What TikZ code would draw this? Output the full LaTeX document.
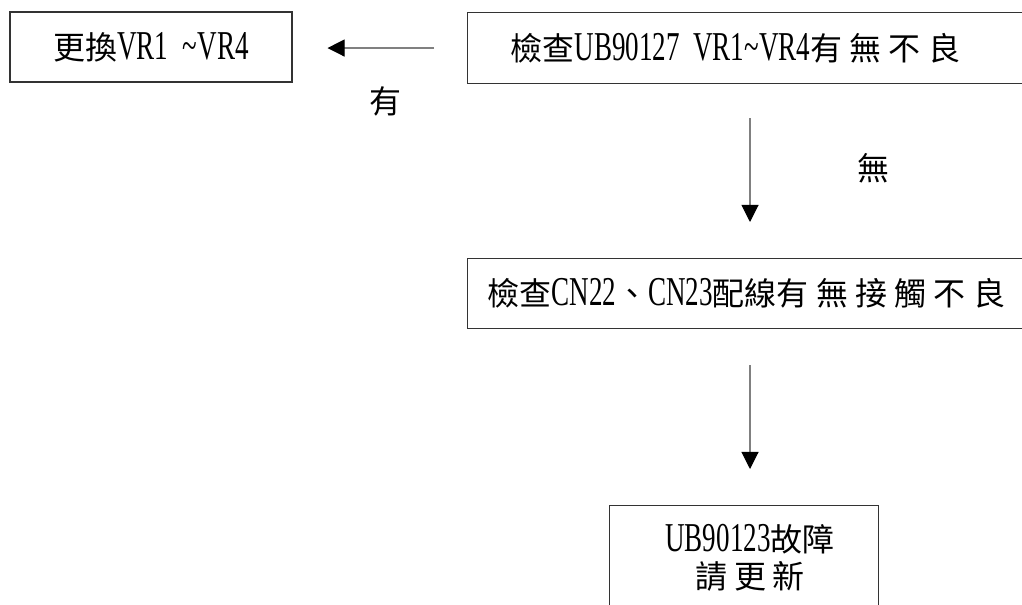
\documentclass[tikz,border=0pt]{standalone}
\usepackage{fontspec}
\setmainfont[FakeStretch=0.66]{Liberation Serif}
\newfontfamily\cjk[Scale=0.78]{Noto Sans CJK TC}
\usetikzlibrary{arrows.meta}
\newcommand{\gap}{\hspace{5.5pt}}

\begin{document}
\begin{tikzpicture}[x=0.75pt, y=-0.75pt,
  every node/.style={font=\fontsize{30.75pt}{27.75pt}\selectfont},
  box/.style={draw=black!80, line width=0.8pt, rectangle, inner sep=0pt},
  flow/.style={draw=black!50, line width=0.8pt,
    -{Triangle[length=12.75pt, width=12.75pt, black]}}]
  \def\px{0.75pt}   % one pixel of the sheet
  % sheet
  \clip (0,0) rectangle (1022,605);
  \fill[white] (0,0) rectangle (1022,605);
  \coordinate (spine) at (750,0);
  % boxes
  \node[box, minimum width=282*\px, minimum height=70*\px] (replace) at (151,47)
    {{\cjk 更換}VR1\hspace{11pt}\textasciitilde VR4};
  \node[box, anchor=north west, minimum height=71*\px, inner xsep=43*\px,
    text width=482*\px, align=left] (check1) at (467,12)
    {{\cjk 檢查}UB90127 VR1\textasciitilde VR4{\cjk 有\gap 無\gap 不\gap 良}};
  \node[box, anchor=north west, minimum height=70*\px, inner xsep=20*\px,
    text width=528*\px, align=left] (check2) at (467,258)
    {{\cjk 檢查}CN22{\cjk 、}CN23{\cjk 配線有\gap 無\gap 接\gap 觸\gap 不\gap 良}};
  \node[box, anchor=north west, minimum width=269*\px, minimum height=140*\px] (fix) at (609,505) {};
  \node[align=center, inner sep=0pt] (fixtext) at (750,558)
    {UB90123{\cjk 故障}\\{\cjk 請\hspace{5pt}更\hspace{5pt}新}};
  % connectors
  \draw[flow, shorten <=33*\px, shorten >=35*\px]
    (check1.west) -- (check1.west -| replace.east);
  \draw[flow, shorten <=34*\px, shorten >=36*\px]
    (check1.south -| spine) -- (check2.north -| spine);
  \draw[flow, shorten <=36*\px, shorten >=36*\px]
    (check2.south -| spine) -- (fix.north -| spine);
  % answers
  \node (yes) at (385,101) {\cjk 有};
  \node (no) at (873,168) {\cjk 無};
\end{tikzpicture}
\end{document}
